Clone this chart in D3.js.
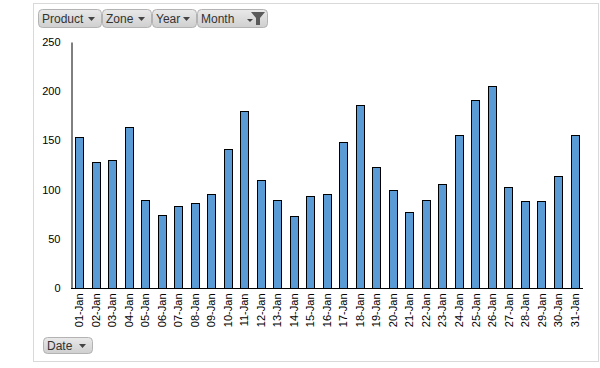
<!DOCTYPE html>
<html>
<head>
<meta charset="utf-8">
<script src="https://d3js.org/d3.v7.min.js"></script>
<style>
  body { margin: 0; background: #fff; }
  svg { display: block; font-family: "Liberation Sans", Arial, sans-serif; }
</style>
</head>
<body>
<svg id="chart" width="600" height="368"></svg>
<script>
// data
const days = ["01-Jan","02-Jan","03-Jan","04-Jan","05-Jan","06-Jan","07-Jan","08-Jan","09-Jan","10-Jan",
  "11-Jan","12-Jan","13-Jan","14-Jan","15-Jan","16-Jan","17-Jan","18-Jan","19-Jan","20-Jan",
  "21-Jan","22-Jan","23-Jan","24-Jan","25-Jan","26-Jan","27-Jan","28-Jan","29-Jan","30-Jan","31-Jan"];
const values = [153,128,130,164,89,74,83,86,96,141,180,110,89,73,93,96,148,186,123,100,77,89,106,155,191,205,103,88,88,114,155];
const yTicks = [0,50,100,150,200,250];
const filterFields = ["Product","Zone","Year","Month"];
const axisFields = ["Date"];

const svg = d3.select("#chart");

// outer frame
svg.append("rect").attr("x", 33.5).attr("y", 3.5).attr("width", 565).attr("height", 358)
  .attr("fill", "#fff").attr("stroke", "#d9d9d9");

const margin = {left: 71, right: 583, top: 42, bottom: 288};

const x = d3.scaleBand().domain(days).range([margin.left, margin.right]).paddingInner(0.49).paddingOuter(0.245);
const y = d3.scaleLinear().domain([0, 250]).range([margin.bottom, margin.top]);

// bars
svg.append("g").selectAll("rect").data(values).join("rect")
  .attr("x", (d, i) => Math.round(x(days[i])) + 0.5)
  .attr("y", d => Math.round(y(d)) + 0.5)
  .attr("width", Math.round(x.bandwidth()))
  .attr("height", d => Math.round(y(0)) - Math.round(y(d)))
  .attr("fill", "#5b9bd5")
  .attr("stroke", "#000")
  .attr("stroke-width", 1);

// y axis
const yAxis = svg.append("g").attr("transform", `translate(${margin.left + 0.5},0)`)
  .call(d3.axisLeft(y).tickValues(yTicks).tickSize(0).tickPadding(11));
yAxis.select(".domain").attr("stroke", "#000");
yAxis.selectAll("text").attr("font-size", 11).attr("fill", "#000")
  .attr("font-family", "'Liberation Sans', Arial, sans-serif");

// x axis
const xAxis = svg.append("g").attr("transform", `translate(0,${margin.bottom + 0.5})`)
  .call(d3.axisBottom(x).tickSize(0));
xAxis.select(".domain").attr("stroke", "#000").attr("d", `M${margin.left},0H${margin.right}`);
xAxis.selectAll("text")
  .attr("font-size", 11).attr("fill", "#000")
  .attr("font-family", "'Liberation Sans', Arial, sans-serif")
  .attr("transform", "rotate(-90)")
  .attr("text-anchor", "end")
  .attr("dy", "0.35em").attr("y", 0).attr("x", -5);

// field buttons
const grad = svg.append("defs").append("linearGradient").attr("id", "btn")
  .attr("x1", 0).attr("y1", 0).attr("x2", 0).attr("y2", 1);
grad.append("stop").attr("offset", "0%").attr("stop-color", "#e9e9e9");
grad.append("stop").attr("offset", "100%").attr("stop-color", "#cfcfcf");

function button(x0, y0, w, h, label, funnel) {
  const g = svg.append("g").attr("transform", `translate(${x0},${y0})`);
  g.append("rect").attr("x", 0.5).attr("y", 0.5).attr("width", w).attr("height", h).attr("rx", 4)
    .attr("fill", "url(#btn)").attr("stroke", "#b3b3b3");
  g.append("text").attr("x", 4).attr("y", h / 2 + 1).attr("dy", "0.35em")
    .attr("font-size", 12).attr("fill", "#333").text(label);
  if (funnel) {
    g.append("path").attr("d", `M${w - 20},${h / 2 + 1}h6l-3,3z`).attr("fill", "#444");
    g.append("path").attr("d", `M${w - 16},${3}h14l-5,6v7h-4v-7z`).attr("fill", "#5a5a5a");
  } else {
    g.append("path").attr("d", `M${w - 13},${h / 2 - 1}h7l-3.5,4z`).attr("fill", "#444");
  }
}
const btnX = [38, 102, 152, 197];
const btnW = [63, 49, 44, 70];
filterFields.forEach((f, i) => button(btnX[i], 9, btnW[i], 18, f, f === "Month"));
button(43, 337, 49, 16, axisFields[0], false);
</script>
</body>
</html>
